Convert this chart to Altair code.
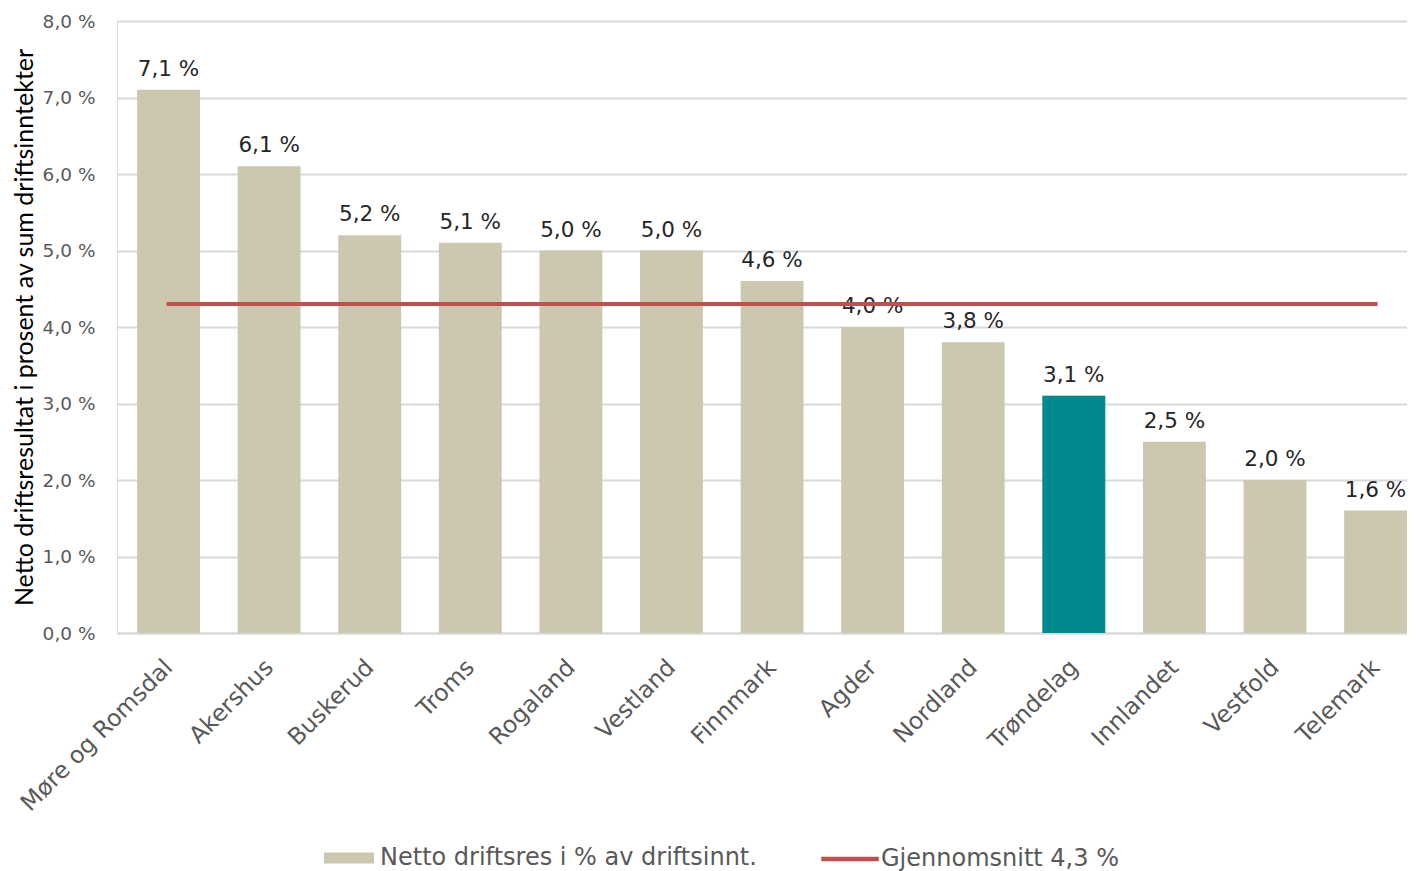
import altair as alt
import pandas as pd

fylker = ["Møre og Romsdal", "Akershus", "Buskerud", "Troms", "Rogaland", "Vestland",
          "Finnmark", "Agder", "Nordland", "Trøndelag", "Innlandet", "Vestfold", "Telemark"]
verdier = [7.1, 6.1, 5.2, 5.1, 5.0, 5.0, 4.6, 4.0, 3.8, 3.1, 2.5, 2.0, 1.6]
snitt = 4.3
uthevet = "Trøndelag"
bar_serie = "Netto driftsres i % av driftsinnt."
linje_serie = "Gjennomsnitt 4,3 %"
y_ticks = [0, 1, 2, 3, 4, 5, 6, 7, 8]
y_title = "Netto driftsresultat i prosent av sum driftsinntekter"

df = pd.DataFrame({
    "fylke": fylker,
    "verdi": verdier,
    "serie": [bar_serie] * len(fylker),
    "linje": [linje_serie] * len(fylker),
    "snitt": [snitt] * len(fylker),
})
df["etikett"] = [f"{v:.1f}".replace(".", ",") + " %" for v in verdier]

FONT = "DejaVu Sans"
TAN = "#CCC8AF"
TEAL = "#008A8F"
RED = "#C0504D"
GREY_TXT = "#595959"

x = alt.X(
    "fylke:N", sort=fylker,
    scale=alt.Scale(paddingInner=0.375, paddingOuter=0.1, align=1),
    axis=alt.Axis(title=None, labelAngle=-45, labelFontSize=23.5, labelColor=GREY_TXT,
                  labelFont=FONT, labelPadding=22, labelOffset=-8, labelLimit=400,
                  ticks=False, domainColor="#D9D9D9", domainWidth=2, grid=False),
)
y = alt.Y(
    "verdi:Q",
    scale=alt.Scale(domain=[0, 8], nice=False),
    axis=alt.Axis(title=y_title, values=y_ticks, titleFont="Lato", titleFontSize=25,
                  titleFontWeight="normal", titleColor="#000000", titlePadding=5,
                  labelFont=FONT, labelFontSize=18.5, labelColor=GREY_TXT, labelPadding=22,
                  labelExpr="replace(format(datum.value, '.1f'), '.', ',') + ' %'",
                  ticks=False, domain=False, grid=True, gridColor="#D9D9D9", gridWidth=2),
)

base = alt.Chart(df)

bars = base.mark_bar().encode(
    x=x, y=y,
    fill=alt.Fill("serie:N", scale=alt.Scale(domain=[bar_serie], range=[TAN]),
                  legend=alt.Legend(title=None, orient="none", legendX=207, legendY=812,
                                    symbolType="M-1,-0.22L1,-0.22L1,0.22L-1,0.22Z",
                                    symbolSize=2500, symbolOpacity=1, symbolStrokeWidth=0,
                                    labelFont=FONT, labelFontSize=24, labelColor=GREY_TXT,
                                    labelOffset=6, labelLimit=700)),
)

highlight = base.transform_filter(alt.datum.fylke == uthevet).mark_bar(color=TEAL).encode(
    x=alt.X("fylke:N", sort=fylker), y="verdi:Q"
)

labels = base.mark_text(dy=-9, baseline="bottom", font=FONT, fontSize=21.5, color="#262626").encode(
    x=alt.X("fylke:N", sort=fylker), y="verdi:Q", text="etikett:N"
)

line = base.mark_line(strokeWidth=4, strokeCap="square").encode(
    x=alt.X("fylke:N", sort=fylker), y="snitt:Q",
    stroke=alt.Stroke("linje:N", scale=alt.Scale(domain=[linje_serie], range=[RED]),
                      legend=alt.Legend(title=None, orient="none", legendX=702, legendY=807,
                                        symbolType="stroke", symbolSize=3300,
                                        symbolStrokeWidth=4.5,
                                        labelFont=FONT, labelFontSize=24, labelColor=GREY_TXT,
                                        labelOffset=0, labelLimit=700)),
)

chart = alt.layer(bars, highlight, labels, line).properties(
    width=1290, height=612,
    padding={"left": 4, "top": 4, "right": 0, "bottom": 0},
).configure_view(stroke=None).configure(background="white")

chart.save("out.html", embed_options={"renderer": "svg", "actions": False})
